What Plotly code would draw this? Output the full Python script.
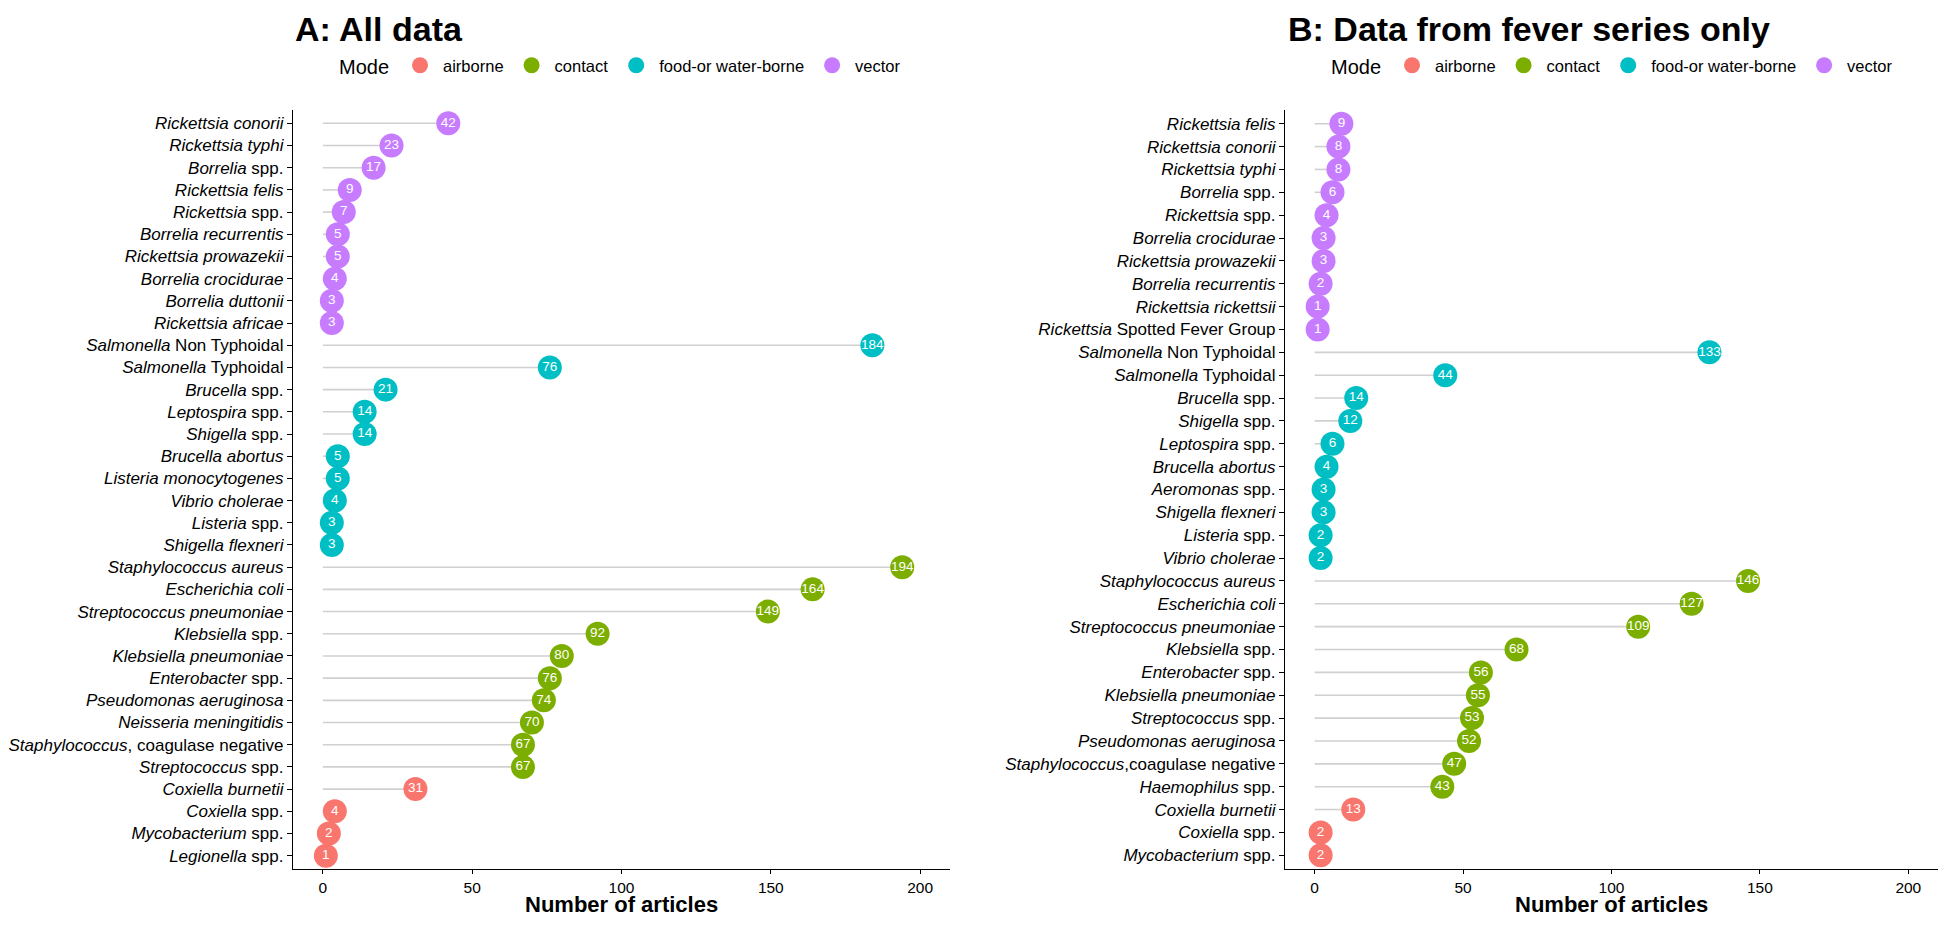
"""
Lollipop charts: number of articles per pathogen, coloured by mode of
transmission. Panel A uses all data, panel B the fever series only.
"""
import plotly.graph_objects as go

FONT = "Liberation Sans, Arial, sans-serif"
MODE_ORDER = ["airborne", "contact", "food-or water-borne", "vector"]
MODE_COLOURS = {
    "airborne": "#F8766D",
    "contact": "#7CAE00",
    "food-or water-borne": "#00BFC4",
    "vector": "#C77CFF",
}

# ---- Panel A: all data (top to bottom) ----
a_labels = [
    "<i>Rickettsia conorii</i>", "<i>Rickettsia typhi</i>", "<i>Borrelia</i> spp.",
    "<i>Rickettsia felis</i>", "<i>Rickettsia</i> spp.", "<i>Borrelia recurrentis</i>",
    "<i>Rickettsia prowazekii</i>", "<i>Borrelia crocidurae</i>", "<i>Borrelia duttonii</i>",
    "<i>Rickettsia africae</i>",
    "<i>Salmonella</i> Non Typhoidal", "<i>Salmonella</i> Typhoidal", "<i>Brucella</i> spp.",
    "<i>Leptospira</i> spp.", "<i>Shigella</i> spp.", "<i>Brucella abortus</i>",
    "<i>Listeria monocytogenes</i>", "<i>Vibrio cholerae</i>", "<i>Listeria</i> spp.",
    "<i>Shigella flexneri</i>",
    "<i>Staphylococcus aureus</i>", "<i>Escherichia coli</i>", "<i>Streptococcus pneumoniae</i>",
    "<i>Klebsiella</i> spp.", "<i>Klebsiella pneumoniae</i>", "<i>Enterobacter</i> spp.",
    "<i>Pseudomonas aeruginosa</i>", "<i>Neisseria meningitidis</i>",
    "<i>Staphylococcus</i>, coagulase negative", "<i>Streptococcus</i> spp.",
    "<i>Coxiella burnetii</i>", "<i>Coxiella</i> spp.", "<i>Mycobacterium</i> spp.",
    "<i>Legionella</i> spp.",
]
a_counts = [42, 23, 17, 9, 7, 5, 5, 4, 3, 3,
            184, 76, 21, 14, 14, 5, 5, 4, 3, 3,
            194, 164, 149, 92, 80, 76, 74, 70, 67, 67,
            31, 4, 2, 1]
a_modes = (["vector"] * 10 + ["food-or water-borne"] * 10
           + ["contact"] * 10 + ["airborne"] * 4)

# ---- Panel B: fever series only (top to bottom) ----
b_labels = [
    "<i>Rickettsia felis</i>", "<i>Rickettsia conorii</i>", "<i>Rickettsia typhi</i>",
    "<i>Borrelia</i> spp.", "<i>Rickettsia</i> spp.", "<i>Borrelia crocidurae</i>",
    "<i>Rickettsia prowazekii</i>", "<i>Borrelia recurrentis</i>", "<i>Rickettsia rickettsii</i>",
    "<i>Rickettsia</i> Spotted Fever Group",
    "<i>Salmonella</i> Non Typhoidal", "<i>Salmonella</i> Typhoidal", "<i>Brucella</i> spp.",
    "<i>Shigella</i> spp.", "<i>Leptospira</i> spp.", "<i>Brucella abortus</i>",
    "<i>Aeromonas</i> spp.", "<i>Shigella flexneri</i>", "<i>Listeria</i> spp.",
    "<i>Vibrio cholerae</i>",
    "<i>Staphylococcus aureus</i>", "<i>Escherichia coli</i>", "<i>Streptococcus pneumoniae</i>",
    "<i>Klebsiella</i> spp.", "<i>Enterobacter</i> spp.", "<i>Klebsiella pneumoniae</i>",
    "<i>Streptococcus</i> spp.", "<i>Pseudomonas aeruginosa</i>",
    "<i>Staphylococcus</i>,coagulase negative", "<i>Haemophilus</i> spp.",
    "<i>Coxiella burnetii</i>", "<i>Coxiella</i> spp.", "<i>Mycobacterium</i> spp.",
]
b_counts = [9, 8, 8, 6, 4, 3, 3, 2, 1, 1,
            133, 44, 14, 12, 6, 4, 3, 3, 2, 2,
            146, 127, 109, 68, 56, 55, 53, 52, 47, 43,
            13, 2, 2]
b_modes = (["vector"] * 10 + ["food-or water-borne"] * 10
           + ["contact"] * 10 + ["airborne"] * 3)

x_ticks = [0, 50, 100, 150, 200]

# page is 1946x927; the browser's 8px body margin sits around the figure
PAGE_OFF = 8
W, H = 1946 - 2 * PAGE_OFF, 927 - 2 * PAGE_OFF


def px_x(p):
    """Page x pixel -> paper fraction."""
    return (p - PAGE_OFF) / W


def px_y(p):
    """Page y pixel (from top) -> paper fraction."""
    return 1 - (p - PAGE_OFF) / H


def add_panel(fig, labels, counts, modes, xref, yref, legend):
    """Grey stems from zero plus coloured, labelled circles per mode."""
    seg_x, seg_y = [], []
    for lab, val in zip(labels, counts):
        seg_x += [0, val, None]
        seg_y += [lab, lab, None]
    fig.add_trace(go.Scatter(
        x=seg_x, y=seg_y, mode="lines",
        line=dict(color="#D0D0D0", width=1.6),
        xaxis=xref, yaxis=yref, showlegend=False, hoverinfo="skip",
    ))
    for mode in MODE_ORDER:
        idx = [i for i, m in enumerate(modes) if m == mode]
        fig.add_trace(go.Scatter(
            x=[counts[i] for i in idx],
            y=[labels[i] for i in idx],
            mode="markers+text",
            name=mode,
            marker=dict(color=MODE_COLOURS[mode], size=24),
            text=[str(counts[i]) for i in idx],
            textposition="middle center",
            textfont=dict(family=FONT, size=13.5, color="white"),
            xaxis=xref, yaxis=yref, legend=legend,
            hovertemplate="%{y}: %{x}<extra>" + mode + "</extra>",
        ))


fig = go.Figure()
add_panel(fig, a_labels, a_counts, a_modes, "x", "y", "legend")
add_panel(fig, b_labels, b_counts, b_modes, "x2", "y2", "legend2")

y_dom = [px_y(869), px_y(110)]
axis_common = dict(
    showline=True, linecolor="black", linewidth=1.2,
    ticks="outside", ticklen=5, tickwidth=1.1, tickcolor="black",
    showgrid=False, zeroline=False, automargin=False,
)
xcommon = dict(axis_common, range=[-10, 210], tickvals=x_ticks, ticklen=4,
               tickfont=dict(family=FONT, size=15.5, color="black"))
ytick_font = dict(family=FONT, size=17, color="black")

fig.update_layout(
    width=W, height=H,
    margin=dict(l=0, r=0, t=0, b=0),
    paper_bgcolor="white", plot_bgcolor="white",
    font=dict(family=FONT, color="black"),
    xaxis=dict(xcommon, domain=[px_x(293), px_x(950)], anchor="y"),
    yaxis=dict(axis_common, domain=y_dom, anchor="x", type="category",
               categoryorder="array", categoryarray=a_labels[::-1],
               range=[-0.6, len(a_labels) - 0.4], tickfont=ytick_font),
    xaxis2=dict(xcommon, domain=[px_x(1285), 1.0], anchor="y2"),
    yaxis2=dict(axis_common, domain=y_dom, anchor="x2", type="category",
                categoryorder="array", categoryarray=b_labels[::-1],
                range=[-0.6, len(b_labels) - 0.4], tickfont=ytick_font),
)

legend_style = dict(
    orientation="h", xanchor="left", yanchor="middle", y=px_y(66),
    title=dict(text="Mode", font=dict(family=FONT, size=20)),
    font=dict(family=FONT, size=16.5), bgcolor="rgba(0,0,0,0)",
    itemwidth=36, itemclick=False, itemdoubleclick=False,
)
fig.update_layout(
    legend=dict(legend_style, x=px_x(337)),
    legend2=dict(legend_style, x=px_x(1329)),
)

# panel titles, left aligned with each panel, at the top edge
for x_px, txt in [(293, "A: All data"), (1286, "B: Data from fever series only")]:
    fig.add_annotation(
        x=px_x(x_px), y=1, xref="paper", yref="paper",
        xanchor="left", yanchor="top", showarrow=False,
        text=f"<b>{txt}</b>", font=dict(family=FONT, size=34, color="black"),
    )

# x-axis titles centred under each panel, at the bottom edge
for x_px in [(293 + 950) / 2, (1285 + 1938) / 2]:
    fig.add_annotation(
        x=px_x(x_px), y=0, xref="paper", yref="paper",
        xanchor="center", yanchor="bottom", showarrow=False,
        text="<b>Number of articles</b>",
        font=dict(family=FONT, size=22, color="black"),
    )

fig.write_html("out.html")
